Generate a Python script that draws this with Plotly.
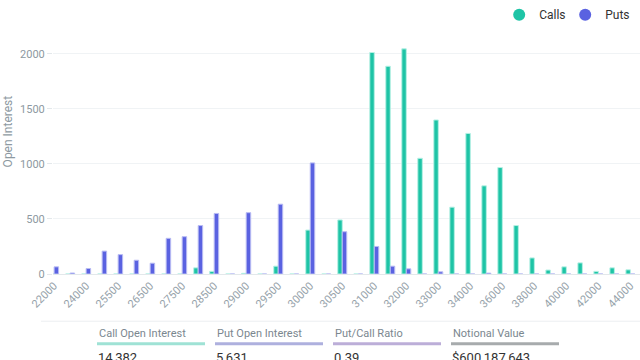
import plotly.graph_objects as go

strikes = ["22000", "23000", "24000", "25000", "25500", "26000", "26500", "27000",
           "27500", "28000", "28500", "28750", "29000", "29250", "29500", "29750",
           "30000", "30250", "30500", "30750", "31000", "31500", "32000", "32500",
           "33000", "33500", "34000", "35000", "36000", "37000", "38000", "39000",
           "40000", "41000", "42000", "43000", "44000"]
calls = [0, 0, 0, 0, 0, 0, 0, 0,
         0, 56, 24, 0, 6, 0, 71, 0,
         399, 0, 491, 0, 2012, 1887, 2045, 1051,
         1399, 607, 1277, 801, 967, 440, 146, 36,
         65, 101, 24, 56, 38]
puts = [65, 9, 50, 208, 176, 125, 98, 324,
        339, 440, 550, 0, 557, 0, 634, 0,
        1009, 0, 384, 0, 250, 71, 47, 0,
        20, 0, 0, 8, 0, 0, 0, 0,
        0, 0, 0, 0, 0]
tick_labels = ["22000", "24000", "25500", "26500", "27500", "28500", "29000", "29500",
               "30000", "30500", "31000", "32000", "33000", "34000", "36000", "38000",
               "40000", "42000", "44000"]

stat_names = ["Call Open Interest", "Put Open Interest", "Put/Call Ratio", "Notional Value"]
stat_values = ["14,382", "5,631", "0.39", "$600,187,643"]
stat_colors = ["#9fe2d5", "#aeb0de", "#bcaed8", "#a7abad"]

CALL = "#1ec4a6"
PUT = "#5a62e1"
W, H = 640, 360
ML, MR, MT, MB = 53, 0, 30, 86

fig = go.Figure()
fig.add_trace(go.Bar(x=strikes, y=calls, name="Calls", marker=dict(color=CALL, line=dict(color="#b5f0e4", width=1)), showlegend=False))
fig.add_trace(go.Bar(x=strikes, y=puts, name="Puts", marker=dict(color=PUT, line=dict(color="#b9bcf3", width=1)), showlegend=False))
fig.add_trace(go.Scatter(x=[None], y=[None], mode="markers", name="Calls", marker=dict(color=CALL, size=13, symbol="circle")))
fig.add_trace(go.Scatter(x=[None], y=[None], mode="markers", name="Puts", marker=dict(color=PUT, size=13, symbol="circle")))

fig.update_layout(
    width=W, height=H,
    margin=dict(l=ML, r=MR, t=MT, b=MB),
    paper_bgcolor="white", plot_bgcolor="white",
    font=dict(family="Roboto", size=11, color="#8d99a1"),
    barmode="group", bargap=0.44, bargroupgap=0,
    legend=dict(orientation="h", x=0.985, xanchor="right", y=1.02, yanchor="bottom",
                font=dict(size=12, color="#333333"), itemsizing="constant",
                entrywidth=21, entrywidthmode="pixels",
                bgcolor="rgba(0,0,0,0)"),
    xaxis=dict(type="category", categoryorder="array", categoryarray=strikes,
               range=[-0.07, 36.6],
               tickmode="array", tickvals=tick_labels, ticktext=tick_labels,
               tickangle=-45, tickfont=dict(size=11, color="#96a2aa"),
               showgrid=False, showline=True, linecolor="#e3e8eb", linewidth=1,
               ticks="", zeroline=False, fixedrange=True),
    yaxis=dict(range=[0, 2180], tickvals=[0, 500, 1000, 1500, 2000],
               tickfont=dict(size=11, color="#8d99a1"),
               showgrid=True, gridcolor="#f0f3f5", gridwidth=1,
               ticks="outside", ticklen=5, tickcolor="#e3e8eb",
               zeroline=False, showline=False, fixedrange=True),
)

pw = W - ML - MR
ph = H - MT - MB

def px_x(x):
    return (x - ML) / pw

def px_y(y):
    return (H - MB - y) / ph

fig.add_annotation(x=px_x(8), y=px_y(129), xref="paper", yref="paper",
                   text="Open Interest", textangle=-90, showarrow=False,
                   font=dict(size=12, color="#8d99a1"), xanchor="center", yanchor="middle")

fig.add_shape(type="line", xref="paper", yref="paper",
              x0=px_x(41), x1=px_x(640), y0=px_y(322), y1=px_y(322),
              line=dict(color="#eceff1", width=1))

starts = [97, 215, 333, 451]
for i, name in enumerate(stat_names):
    x0 = starts[i]
    fig.add_annotation(x=px_x(x0), y=px_y(334.5), xref="paper", yref="paper",
                       text=name, showarrow=False, xanchor="left", yanchor="middle",
                       font=dict(size=11, color="#7b878f"))
    fig.add_shape(type="line", xref="paper", yref="paper",
                  x0=px_x(x0), x1=px_x(x0 + 108), y0=px_y(345), y1=px_y(345),
                  line=dict(color=stat_colors[i], width=3))
    fig.add_annotation(x=px_x(x0 - 1), y=px_y(358.5), xref="paper", yref="paper",
                       text=stat_values[i], showarrow=False, xanchor="left", yanchor="middle",
                       font=dict(size=13, color="#333333"))

fig.write_html("out.html", config={"displayModeBar": False},
               post_script="document.body.style.margin='0px';")
